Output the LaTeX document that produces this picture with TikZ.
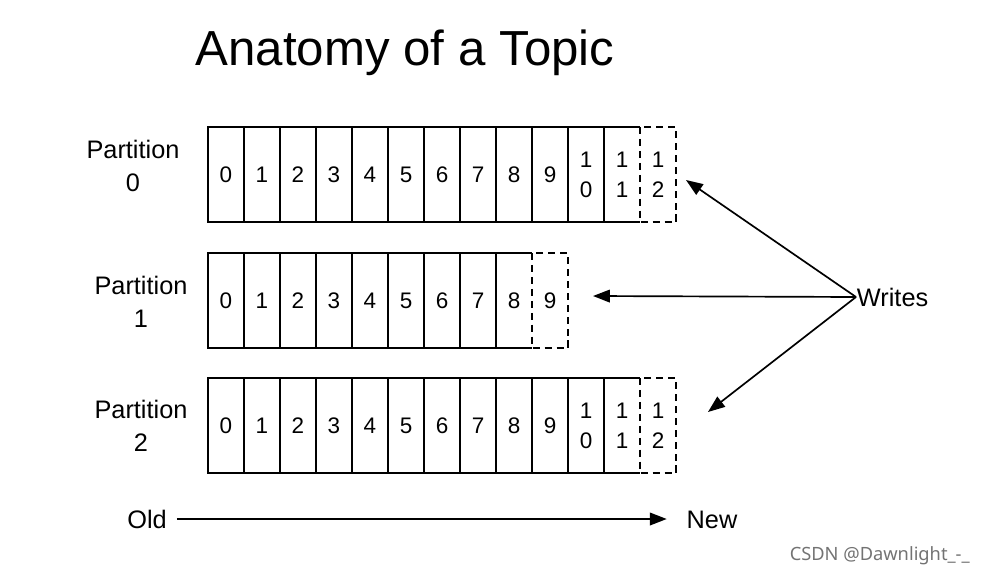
\documentclass[tikz,border=0pt]{standalone}
\usepackage{fontspec}
\setmainfont{Liberation Sans}
\newfontfamily\markfont{Noto Sans}
\usetikzlibrary{arrows.meta}

\tikzset{
  cellline/.style={line width=0.9pt},
  newcell/.style={line width=0.9pt, dash pattern=on 5pt off 3.5pt},
  digit/.style={inner sep=0pt, align=center, font=\fontsize{16}{21.5}\selectfont},
  partlabel/.style={align=center, font=\fontsize{18}{23.5}\selectfont},
  endlabel/.style={inner sep=7pt, text height=12.9pt, text depth=0pt},
  writearrow/.style={-{Triangle[length=12pt,width=9pt]}, line width=1.2pt}
}

\begin{document}
\begin{tikzpicture}[x=0.025cm,y=-0.025cm,font=\fontsize{18}{22}\selectfont]
\def\cellw{36};
\def\rowh{95};
\useasboundingbox (0,0) rectangle (985,578);

\node (title) at (405,53) {\fontsize{35}{40}\selectfont Anatomy of a Topic};

% partition 0
\node[partlabel] (part0) at (133,166) {Partition\\0};
\begin{scope}[shift={(208,127)}]
\draw [cellline] (12*\cellw,0) -- (0,0) -- (0,\rowh) -- (12*\cellw,\rowh);
\foreach \k in {1,...,11}{
\draw [cellline] (\k*\cellw,0) -- (\k*\cellw,\rowh);
}
\foreach \k in {0,...,9}{
\node[digit] (d0-\k) at (\k*\cellw+18,48) {\k};
}
\foreach \k/\a/\b in {10/1/0,11/1/1,12/1/2}{
\node[digit] (d0-\k) at (\k*\cellw+18,48) {\a\\\b};
}
\draw [newcell] (12*\cellw,0) rectangle (13*\cellw,\rowh);
\end{scope}

% partition 1
\node[partlabel] (part1) at (141,302) {Partition\\1};
\begin{scope}[shift={(208,253)}]
\draw [cellline] (9*\cellw,0) -- (0,0) -- (0,\rowh) -- (9*\cellw,\rowh);
\foreach \k in {1,...,8}{
\draw [cellline] (\k*\cellw,0) -- (\k*\cellw,\rowh);
}
\foreach \k in {0,...,9}{
\node[digit] (d1-\k) at (\k*\cellw+18,48) {\k};
}
\draw [newcell] (9*\cellw,0) rectangle (10*\cellw,\rowh);
\end{scope}

% partition 2
\node[partlabel] (part2) at (141,426) {Partition\\2};
\begin{scope}[shift={(208,378)}]
\draw [cellline] (12*\cellw,0) -- (0,0) -- (0,\rowh) -- (12*\cellw,\rowh);
\foreach \k in {1,...,11}{
\draw [cellline] (\k*\cellw,0) -- (\k*\cellw,\rowh);
}
\foreach \k in {0,...,9}{
\node[digit] (d2-\k) at (\k*\cellw+18,48) {\k};
}
\foreach \k/\a/\b in {10/1/0,11/1/1,12/1/2}{
\node[digit] (d2-\k) at (\k*\cellw+18,48) {\a\\\b};
}
\draw [newcell] (12*\cellw,0) rectangle (13*\cellw,\rowh);
\end{scope}

% writes
\node[anchor=west, inner sep=0.5pt] (writes) at (856,297) {Writes};
\coordinate (tip0) at (686,180);
\coordinate (tip1) at (593,296);
\coordinate (tip2) at (708,412);
\draw [writearrow] (writes.west) -- (tip0);
\draw [writearrow] (writes.west) -- (tip1);
\draw [writearrow] (writes.west) -- (tip2);

% old -> new
\node[endlabel] (old) at (147,519) {Old};
\node[endlabel] (new) at (712,519) {New};
\draw [writearrow, shorten >=7pt] (old) -- (new);

\node[anchor=east, text=black!55, inner sep=0pt] (mark) at (970,556) {\markfont\fontsize{13}{15}\selectfont CSDN @Dawnlight\_-\_};
\end{tikzpicture}
\end{document}
